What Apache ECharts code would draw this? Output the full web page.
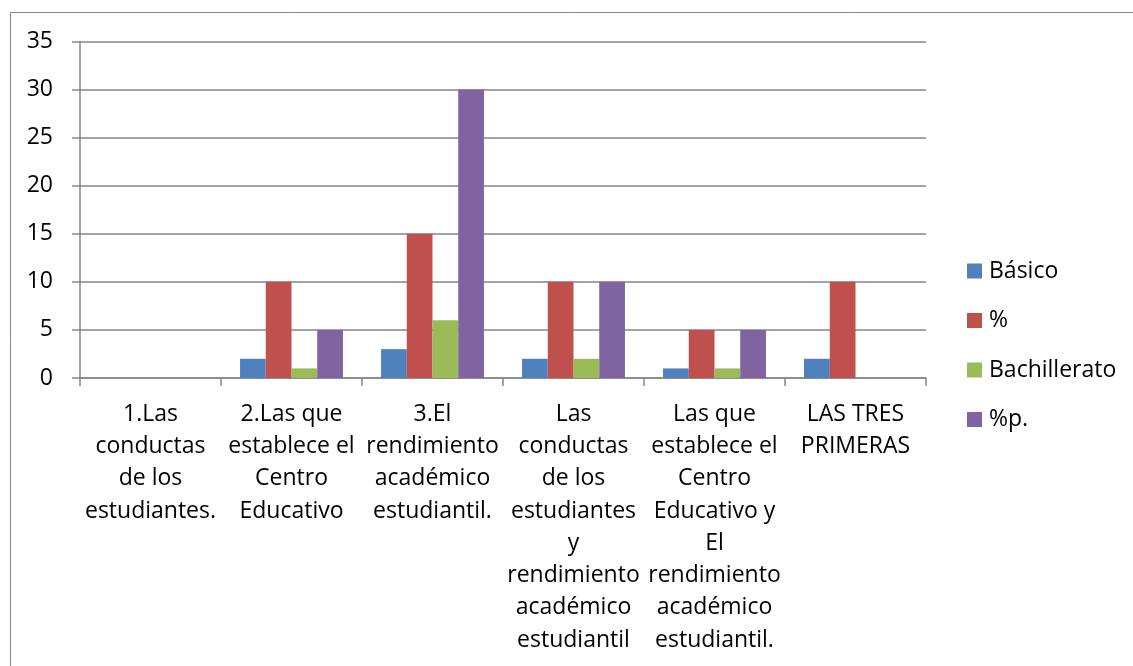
<!DOCTYPE html>
<html>
<head>
<meta charset="utf-8">
<script src="https://cdn.jsdelivr.net/npm/echarts@6/dist/echarts.min.js"></script>
<style>
html,body{margin:0;padding:0;background:#fff;}
#chart{width:1133px;height:666px;}
</style>
</head>
<body>
<div id="chart"></div>
<script>
const categories = [
  "1.Las\nconductas\nde los\nestudiantes.",
  "2.Las que\nestablece el\nCentro\nEducativo",
  "3.El\nrendimiento\nacadémico\nestudiantil.",
  "Las\nconductas\nde los\nestudiantes\ny\nrendimiento\nacadémico\nestudiantil",
  "Las que\nestablece el\nCentro\nEducativo y\nEl\nrendimiento\nacadémico\nestudiantil.",
  "LAS TRES\nPRIMERAS"
];
const seriesNames = ["Básico", "%", "Bachillerato", "%p."];
const basico = [0, 2, 3, 2, 1, 2];
const pct = [0, 10, 15, 10, 5, 10];
const bachillerato = [0, 1, 6, 2, 1, 0];
const pctP = [0, 5, 30, 10, 5, 0];
const yTicks = [0, 5, 10, 15, 20, 25, 30, 35];

const colors = ["#4F81BD", "#C0504D", "#9BBB59", "#8064A2"];
const FONT = "'Open Sans', sans-serif";
const FS = 23;
const chart = echarts.init(document.getElementById('chart'));
const values = [basico, pct, bachillerato, pctP];
chart.setOption({
  animation: false,
  color: colors,
  textStyle: { fontFamily: FONT },
  graphic: [{
    type: 'rect',
    shape: { x: 10.5, y: 12.5, width: 1200, height: 800 },
    style: { fill: 'none', stroke: '#868686', lineWidth: 1 },
    silent: true
  }],
  legend: {
    orient: 'vertical',
    left: 967,
    top: 259.5,
    itemWidth: 15,
    itemHeight: 15,
    itemGap: 26.5,
    padding: 0,
    icon: 'rect',
    textStyle: { fontSize: FS, lineHeight: 22, color: '#000', fontFamily: FONT, padding: [0, 0, 0, 2] },
    data: seriesNames
  },
  grid: { left: 80, right: 207, top: 41.5, bottom: 288, containLabel: false },
  xAxis: {
    type: 'category',
    data: categories,
    axisLine: { lineStyle: { color: '#868686', width: 1.5 } },
    axisTick: { show: true, length: 8, lineStyle: { color: '#868686', width: 1.5 } },
    axisLabel: { interval: 0, color: '#000', fontSize: FS, lineHeight: 32.3, margin: 20, fontFamily: FONT, align: 'center' }
  },
  yAxis: {
    type: 'value',
    min: yTicks[0],
    max: yTicks[yTicks.length - 1],
    interval: 5,
    axisLine: { show: true, lineStyle: { color: '#868686', width: 1.5 } },
    axisTick: { show: true, length: 8, lineStyle: { color: '#868686', width: 1.5 } },
    splitLine: { lineStyle: { color: '#868686', width: 1.5 } },
    axisLabel: { color: '#000', fontSize: FS, margin: 27, fontFamily: FONT }
  },
  series: seriesNames.map((n, i) => ({
    name: n,
    type: 'bar',
    data: values[i],
    barGap: '0%',
    barCategoryGap: '27%',
    itemStyle: { color: colors[i] }
  }))
});
</script>
</body>
</html>
